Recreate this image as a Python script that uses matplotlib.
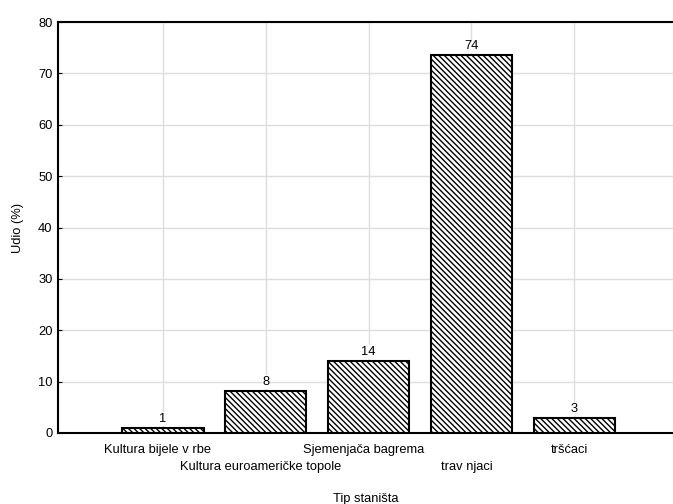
import matplotlib.pyplot as plt
import matplotlib as mpl

plt.rcParams['font.family'] = ['Liberation Sans', 'DejaVu Sans']
mpl.rcParams['hatch.linewidth'] = 1.0

categories = ['Kultura bijele v rbe', 'Kultura euroameričke topole',
              'Sjemenjača bagrema', 'trav njaci', 'tršćaci']
values = [0.95, 8.15, 14.0, 73.5, 2.85]
labels = ['1', '8', '14', '74', '3']

fs = 9.3

fig = plt.figure(figsize=(6.73, 5.04), dpi=100)
ax = fig.add_axes([0.0862, 0.1409, 0.9138, 0.8154])

x = list(range(len(categories)))
ax.bar(x, values, width=0.79, color='white', edgecolor='black',
       linewidth=1.5, hatch='\\\\\\\\\\\\', zorder=3)

for xi, v, lab in zip(x, values, labels):
    ax.text(xi, v + 0.6, lab, ha='center', va='bottom', fontsize=fs,
            zorder=4, bbox=dict(facecolor='white', edgecolor='none', pad=0.5))

ax.set_xlim(-1.022, 4.96)
ax.set_ylim(0, 80)
ax.set_yticks(range(0, 81, 10))
ax.set_xticks(x)
ax.set_xticklabels([])
for xi, cat in zip(x, categories):
    off = -0.026 if xi % 2 == 0 else -0.067
    ax.text(xi - 0.05, off, cat, transform=ax.get_xaxis_transform(),
            ha='center', va='top', fontsize=fs)

ax.grid(True, color='#dddddd', linewidth=1.0, zorder=0)
ax.set_axisbelow(True)
ax.tick_params(axis='y', direction='in', length=3, labelsize=fs, pad=4)
ax.tick_params(axis='x', length=0)
for s in ['left', 'top', 'bottom']:
    ax.spines[s].set_linewidth(1.5)
ax.spines['right'].set_visible(False)

ax.set_ylabel('Udio (%)', fontsize=fs, labelpad=10)
ax.set_xlabel('Tip staništa', fontsize=fs, labelpad=40)

fig.savefig('out.png', dpi=100)
